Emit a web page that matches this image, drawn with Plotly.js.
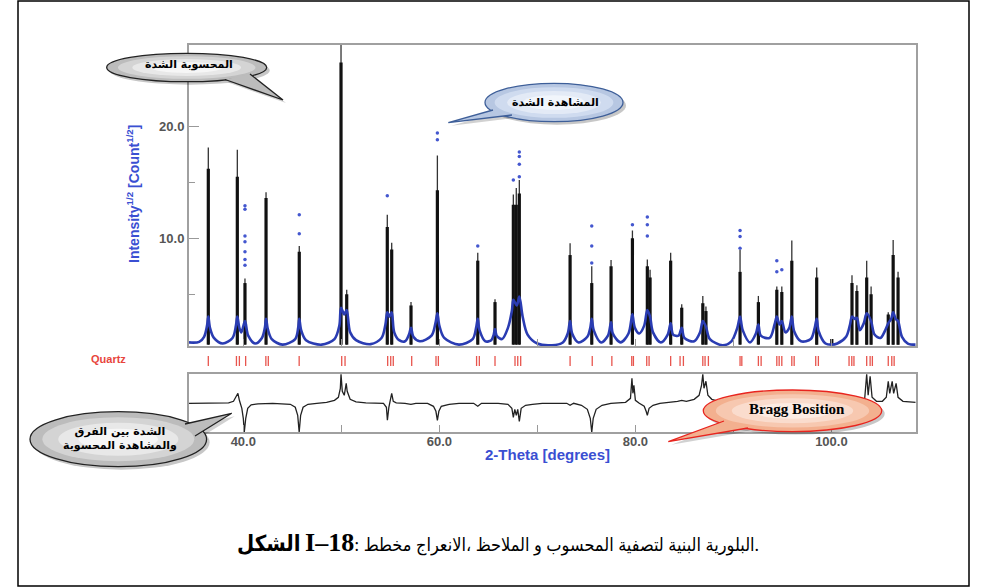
<!DOCTYPE html>
<html><head><meta charset="utf-8">
<script src="https://cdn.plot.ly/plotly-3.0.1.min.js"></script>
<style>html,body{margin:0;padding:0;background:#fff;}#chart{width:987px;height:587px;}</style>
</head><body><div id="chart"></div>
<script>
// ---------- data ----------
// calculated profile (blue curve): 2θ and sqrt(I)
const calcX = [34.46,35.5,36.0,36.3,36.43,36.6,37.0,37.9,38.9,39.25,39.39,39.6,39.8,40.17,40.5,41.2,41.9,42.2,42.32,42.5,42.9,44.0,45.3,45.6,45.71,45.9,46.4,48.0,49.3,49.8,49.97,50.3,50.55,50.9,51.5,53.0,54.1,54.5,54.69,54.9,55.14,55.4,55.9,56.5,56.9,57.11,57.35,58.0,59.2,59.6,59.8,60.0,60.5,62.0,63.4,63.75,63.92,64.1,64.7,65.3,65.55,65.68,65.85,66.4,67.0,67.4,67.55,67.9,68.16,68.5,69.0,70.0,71.5,72.6,73.1,73.34,73.55,74.2,75.1,75.4,75.55,75.75,76.5,77.2,77.52,77.7,78.5,79.3,79.6,79.7,79.95,80.4,80.9,81.22,81.5,81.8,82.6,83.3,83.6,83.85,84.4,84.73,85.0,86.0,86.6,86.88,87.2,87.6,88.9,89.8,90.4,90.68,90.95,91.7,92.3,92.55,92.8,93.7,94.2,94.43,94.7,94.94,95.3,95.7,95.96,96.2,96.9,97.9,98.3,98.5,98.7,99.4,100.0,100.6,101.5,101.9,102.1,102.4,102.6,102.9,103.3,103.6,104.05,104.4,105.0,105.5,105.8,106.1,106.3,106.55,106.8,107.2,107.8,108.6];
const calcY = [0.7,0.75,1.2,2.2,3.0,2.0,1.1,0.6,1.1,2.2,3.0,2.0,1.6,2.6,1.3,0.6,1.1,2.0,2.8,1.9,1.0,0.5,1.0,2.0,2.8,1.8,0.9,0.5,1.0,2.2,3.8,3.2,3.6,1.6,0.9,0.55,1.1,2.3,3.4,3.0,3.4,1.6,0.9,0.8,1.4,2.0,1.2,0.8,1.3,2.4,3.3,2.2,1.1,0.5,1.0,2.0,2.8,1.8,0.8,0.9,1.4,1.9,1.3,1.0,2.0,3.5,4.5,4.0,4.8,3.0,1.4,0.6,0.45,0.7,1.5,2.6,1.5,0.7,1.2,2.0,2.8,1.8,0.7,1.3,2.5,1.5,0.7,1.5,2.8,3.2,2.0,1.5,2.2,3.6,3.0,1.6,0.7,1.4,2.4,1.4,1.3,2.0,1.1,0.8,1.6,2.6,2.1,1.0,0.45,0.8,2.0,3.0,1.8,0.7,1.5,2.3,1.3,1.1,2.3,3.0,2.3,2.6,1.6,2.0,3.0,1.7,0.8,1.0,2.0,2.8,1.7,0.6,0.5,0.6,1.2,2.3,3.0,2.8,2.9,1.8,2.4,3.3,2.6,1.4,1.1,1.8,2.4,2.8,3.4,2.8,2.6,1.2,0.6,0.5];

// observed peaks (black columns): position, top of thin column, top of dense column
const obsPos   = [36.43,39.39,40.17,42.32,45.71,49.97,50.55,54.69,55.14,57.11,59.8,63.92,65.68,67.55,67.85,68.16,73.34,75.55,77.52,79.7,81.22,81.5,83.6,84.73,86.88,87.2,90.68,92.55,94.43,94.94,95.96,98.5,100.04,102.1,102.6,103.6,104.05,105.8,106.3,106.8];
const obsTop   = [18.1,17.9,6.4,14.1,9.3,28.0,5.4,12.1,9.6,4.3,17.4,8.7,4.55,13.9,14.5,15.2,9.55,7.5,8.06,10.7,8.1,7.2,8.7,4.1,4.85,3.9,8.95,4.85,5.7,5.7,9.8,7.4,1.0,6.7,5.8,8.0,5.7,3.4,9.85,7.0];
const obsDense = [16.2,15.5,6.0,13.6,8.8,25.7,5.0,11.0,9.0,4.0,14.3,8.0,4.3,13.0,13.0,14.0,8.5,6.0,7.5,10.0,7.5,6.5,8.0,3.8,4.2,3.5,7.0,4.3,5.4,5.2,8.0,6.5,1.0,6.0,5.3,6.5,5.0,3.2,8.5,6.5];

// scattered blue observation points above the columns
const dotX = [40.17,40.17,40.17,40.17,40.17,40.17,40.17,45.71,45.71,54.69,59.8,59.8,63.92,68.16,68.16,68.16,68.16,67.55,75.55,75.55,75.55,79.7,81.22,81.22,81.22,90.68,90.68,90.68,94.43,94.43,94.94];
const dotY = [12.9,12.6,10.2,9.7,8.8,8.1,7.6,12.1,10.4,13.8,19.4,18.8,9.3,17.7,17.3,16.6,15.5,15.2,11.1,9.3,7.8,11.2,11.9,11.2,10.2,10.7,10.15,9.1,8.0,7.0,7.2];

// Bragg reflection positions (Quartz)
const braggX = [36.43,39.3,39.6,40.24,42.3,42.55,45.7,50.04,50.38,54.73,55.04,55.3,57.18,59.66,59.9,63.8,64.08,65.68,67.72,68.0,68.3,73.34,75.6,77.6,79.63,79.8,81.16,81.4,83.6,84.56,84.9,86.88,87.11,87.45,90.68,90.86,92.55,92.83,94.43,94.67,94.94,95.96,96.2,98.4,98.67,101.8,102.08,102.3,103.6,103.95,104.18,105.8,106.16,106.4];

// difference curve (obs - calc), arbitrary units
const diffX = [34.46,38.5,39.0,39.3,39.45,39.6,39.85,40.0,40.1,40.25,40.45,40.8,41.5,43,44.8,45.3,45.55,45.7,45.85,46.1,46.6,47.5,48.5,49.3,49.7,49.9,49.97,50.1,50.3,50.5,50.6,50.9,51.5,52.5,53.5,54.3,54.6,54.7,54.85,55.0,55.14,55.3,55.6,56.5,57.1,57.6,58.8,59.4,59.65,59.8,59.95,60.2,61,62,63.5,63.92,64.3,66,67.0,67.4,67.55,67.7,67.85,68.0,68.16,68.35,68.8,69.5,70.5,72.0,73.0,73.34,73.7,74.5,75.1,75.4,75.55,75.7,76.0,76.6,77.5,79.0,79.5,79.65,79.75,79.85,80.0,80.4,80.9,81.1,81.22,81.4,81.8,82.5,83.6,84.3,84.73,85.2,86.0,86.5,86.75,86.88,87.0,87.2,87.4,87.8,88.5,89.5,92,94.5,94.94,95.1,96,99,102,103.0,103.4,103.6,103.75,103.95,104.15,104.6,105.2,105.6,105.8,105.95,106.2,106.35,106.6,106.8,107.3,108.6];
const diffY = [0,0.5,2,7,10,3,-5,-15,-29,-15,-5,-1.5,-0.5,0,-1,-4,-12,-29,-12,-4,-1,0,1,3,6,15,29,12,8,20,12,4,1.5,0.5,0,0,-4,-17,-4,2,10,2,0.5,0,-1,0,0,-3,-8,-17,-8,-3,-1,0,0,-3,0,0,-1,-5,-14,-6,-12,-6,-18,-5,-2,-1,0,0,0,-2,0,-2,-6,-15,-29,-15,-6,-2,0,1,5,25,10,18,3,0,-3,-8,-12,-5,-2,0,1,2,3,2,4,8,18,29,15,22,8,4,2,0,0,1,10,2,0,0,0,1,5,29,8,27,6,2,2,6,22,10,22,10,20,6,2,1];

const yTickVals = [10,20];
const yTickText = ['10.0','20.0'];
const xTickVals = [40,60,80,100];
const xTickText = ['40.0','60.0','80.0','100.0'];

// ---------- build ----------
const W = 987, H = 587;
const XR = [34.46,108.6];
const XD = [189/W, 915.7/W];

function columns(pos, top, base){
  const x=[], y=[];
  pos.forEach((p,i)=>{ x.push(p,p,null); y.push(base, top[i], null); });
  return {x, y};
}
const thin = columns(obsPos, obsTop, 0.5);
const dense = columns(obsPos, obsDense, 0.5);

const traces = [
  {x: thin.x, y: thin.y, mode:'lines', line:{color:'#333', width:1.3}, hoverinfo:'skip', xaxis:'x', yaxis:'y'},
  {x: dense.x, y: dense.y, mode:'lines', line:{color:'#111', width:3.2}, hoverinfo:'skip', xaxis:'x', yaxis:'y'},
  {x: calcX, y: calcY, mode:'lines', line:{color:'#2a3cb2', width:2.6, shape:'spline', smoothing:0.9}, xaxis:'x', yaxis:'y'},
  {x: dotX, y: dotY, mode:'markers', marker:{color:'#4457cf', size:3.5}, xaxis:'x', yaxis:'y'},
  {x: braggX, y: braggX.map(()=>0.5), mode:'markers', marker:{symbol:'line-ns', size:8, line:{color:'#e8554e', width:1.3}}, xaxis:'x2', yaxis:'y2'},
  {x: diffX, y: diffY, mode:'lines', line:{color:'#222', width:1.3}, xaxis:'x3', yaxis:'y3'}
];

const gray = '#a0a0a0';
const tickFont = {family:'Liberation Sans, Arial, sans-serif', size:13, color:'#555', weight:'bold'};

// ---------- callout shapes ----------
const px = x => x/W, py = y => 1 - y/H;
function ell(cx, cy, rx, ry, fill, line){
  return {type:'circle', xref:'paper', yref:'paper', x0:px(cx-rx), x1:px(cx+rx), y0:py(cy+ry), y1:py(cy-ry),
          fillcolor:fill, line: line || {width:0}, layer:'above'};
}
function poly(pts, closed, fill, line){
  let d = pts.map((p,i)=>(i?'L':'M')+px(p[0])+','+py(p[1])).join(' ');
  if (closed) d += ' Z';
  return {type:'path', xref:'paper', yref:'paper', path:d, fillcolor: fill || 'rgba(0,0,0,0)', line: line || {width:0}, layer:'above'};
}
function callout(cx, cy, rx, ry, b1, tip, b2, edge, stops){
  const s = [];
  s.push(ell(cx+3, cy+3, rx, ry, 'rgba(0,0,0,0.22)'));
  s.push(poly([[b1[0]+3,b1[1]+3],[tip[0]+3,tip[1]+3],[b2[0]+3,b2[1]+3]], true, 'rgba(0,0,0,0.18)'));
  s.push(ell(cx, cy, rx, ry, stops[0], {color:edge, width:1.3}));
  s.push(poly([b1, tip, b2], true, stops[0]));
  s.push(poly([b1, tip, b2], false, null, {color:edge, width:1.3}));
  s.push(ell(cx, cy, rx*0.86, ry*0.8, stops[1]));
  s.push(ell(cx, cy, rx*0.68, ry*0.6, stops[2]));
  s.push(ell(cx, cy, rx*0.45, ry*0.38, stops[3]));
  return s;
}
const grayStops = ['#bcbcbc','#d4d4d4','#e8e8e8','#f6f6f6'];
const blueStops = ['#b7c7e2','#cfdbef','#e3eaf6','#f1f5fb'];
const peachStops = ['#f3b08f','#f7c8b0','#fadccd','#fdece3'];

let shapes = [
  {type:'rect', xref:'paper', yref:'paper', x0:px(18), x1:px(969), y0:py(586), y1:py(1), line:{color:'#000', width:1.5}, layer:'below'}
];
shapes = shapes.concat(
  callout(186.7, 67.5, 80, 14.2, [225,79.5], [283,100], [250,74], '#222', grayStops),
  callout(554, 102.5, 69, 19.2, [493,110], [448.3,122.7], [512,115], '#3e5f99', blueStops),
  callout(118.3, 439.2, 88.3, 27.5, [185,424], [231.7,413.3], [195,436], '#222', grayStops),
  callout(792.5, 410.8, 89.2, 20.8, [724,421], [668.3,441.7], [748,428], '#e8251f', peachStops)
);

const L = '\u200E';
const arFont = {family:'DejaVu Sans, sans-serif', size:11, color:'#000', weight:'bold'};
const blueTitle = {family:'Liberation Sans, Arial, sans-serif', size:14, color:'#3a4fd2', weight:'bold'};
function ann(x, y, text, font, extra){
  return Object.assign({xref:'paper', yref:'paper', x:px(x), y:py(y), xanchor:'center', yanchor:'middle', text:text, showarrow:false, font:font}, extra||{});
}
const annotations = [
  ann(133, 194, 'Intensity<sup>1/2</sup> [Count<sup>1/2</sup>]', blueTitle, {textangle:-90}),
  ann(547, 454, '2-Theta [degrees]', {...blueTitle, size:15}),
  ann(108, 359, 'Quartz', {family:'Liberation Sans, Arial, sans-serif', size:11, color:'#e8453c', weight:'bold'}),
  ann(189, 65, 'الشدة'+L+' المحسوبة', arFont),
  ann(555, 102, 'الشدة'+L+' المشاهدة', arFont),
  ann(120, 438, 'الفرق'+L+' بين'+L+' الشدة<br>المحسوبة'+L+' والمشاهدة', arFont),
  ann(797, 409, 'Bragg Bosition', {family:'Liberation Serif, Times New Roman, serif', size:15, color:'#000', weight:'bold'}),
  ann(498, 542, '<b><span style="font-size:22px">الشكل'+L+'</span> <span style="font-size:26px">I–18</span></b>: مخطط'+L+' الانعراج،'+L+' الملاحظ'+L+' و'+L+' المحسوب'+L+' لتصفية'+L+' البنية'+L+' البلورية.', {family:'Liberation Serif, DejaVu Sans Condensed, DejaVu Sans, serif', size:18, color:'#000'})
];

const layout = {
  width:W, height:H, margin:{l:0,r:0,t:0,b:0}, showlegend:false,
  paper_bgcolor:'#fff', plot_bgcolor:'#fff',
  xaxis:{domain:XD, range:XR, anchor:'y', showline:true, mirror:true, linecolor:gray, linewidth:2, ticks:'inside', ticklen:7, tickcolor:'#999', tickvals:[40,50,60,70,80,90,100], showticklabels:false, showgrid:false, zeroline:false, fixedrange:true},
  yaxis:{domain:[py(346), py(45)], range:[0.38,27.26], anchor:'x', showline:true, mirror:true, linecolor:gray, linewidth:2, ticks:'inside', ticklen:10, tickcolor:'#999', tickvals:yTickVals, ticktext:yTickText, tickfont:tickFont, minor:{tickvals:[5,15], ticks:'inside', ticklen:6, tickcolor:'#999'}, showgrid:false, zeroline:false, fixedrange:true},
  xaxis2:{domain:XD, range:XR, anchor:'y2', visible:false, fixedrange:true},
  yaxis2:{domain:[py(366), py(356)], range:[0,1], anchor:'x2', visible:false, fixedrange:true},
  xaxis3:{domain:XD, range:XR, anchor:'y3', showline:true, mirror:true, linecolor:gray, linewidth:2, ticks:'inside', ticklen:7, tickcolor:'#999', tickvals:xTickVals, ticktext:xTickText, tickfont:tickFont, ticklabelstandoff:-4, minor:{tickvals:[50,70,90], ticks:'inside', ticklen:7, tickcolor:'#999'}, showgrid:false, zeroline:false, fixedrange:true},
  yaxis3:{domain:[py(432.3), py(374)], range:[-29,29.3], anchor:'x3', showline:true, mirror:true, linecolor:gray, linewidth:2, ticks:'', showticklabels:false, showgrid:false, zeroline:false, fixedrange:true},
  shapes: shapes,
  annotations: annotations
};

Plotly.newPlot('chart', traces, layout, {displayModeBar:false, staticPlot:true});
</script>
</body></html>
